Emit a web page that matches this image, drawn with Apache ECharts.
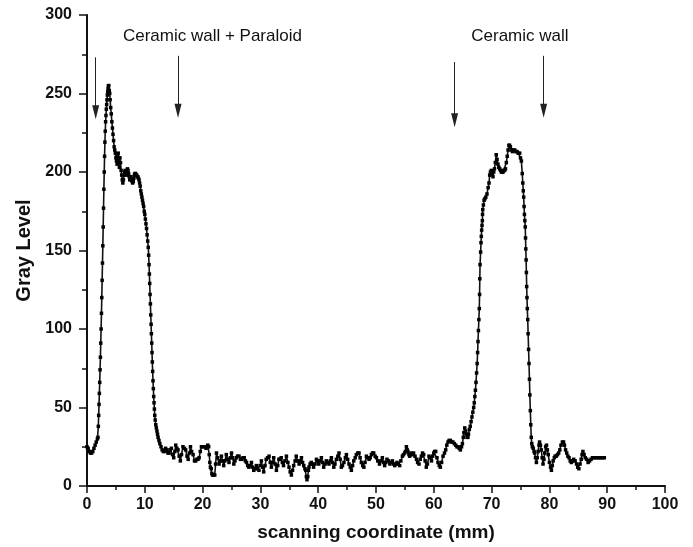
<!DOCTYPE html>
<html>
<head>
<meta charset="utf-8">
<script src="https://cdn.jsdelivr.net/npm/echarts@6/dist/echarts.min.js"></script>
<style>
  html, body { margin: 0; padding: 0; background: #fff; }
  #grayProfile { width: 693px; height: 547px; }
</style>
</head>
<body>
<div id="grayProfile"></div>
<script>
// scanning coordinate (mm)
const scanMm = [
  0.0, 0.2, 0.4, 0.6, 0.8, 1.0, 1.2, 1.4, 1.6, 1.8,
  1.90, 1.96, 2.02, 2.08, 2.14, 2.20, 2.26, 2.32, 2.38, 2.44, 2.50, 2.56, 2.62, 2.68, 2.74, 2.80, 2.86, 2.92, 2.98, 3.04, 3.10, 3.16, 3.22, 3.28, 3.34, 3.40, 3.46, 3.52, 3.58, 3.64, 3.70, 3.76,
  3.85, 3.93, 4.0, 4.1, 4.2, 4.3, 4.4, 4.5, 4.6, 4.7, 4.8, 4.9, 5.0, 5.1, 5.2, 5.3, 5.4, 5.5, 5.6, 5.7, 5.8, 5.9, 6.0, 6.1, 6.2, 6.3, 6.4, 6.5, 6.6, 6.7, 6.8, 6.9, 7.0, 7.1, 7.2, 7.3, 7.4, 7.5, 7.6, 7.7, 7.8, 7.9, 8.0, 8.1, 8.2, 8.3, 8.4, 8.5, 8.6, 8.7, 8.8, 8.9, 9.0, 9.1, 9.2, 9.3, 9.4, 9.5, 9.6, 9.7, 9.8, 9.9, 10.0, 10.1, 10.2, 10.3, 10.4, 10.5, 10.6,
  10.67, 10.73, 10.79, 10.85, 10.91, 10.97, 11.03, 11.09, 11.14, 11.2, 11.25, 11.3, 11.36, 11.42, 11.48, 11.54, 11.6, 11.66, 11.72, 11.8, 11.9, 12.0, 12.1, 12.2, 12.3, 12.45, 12.6, 12.8, 13.0, 13.2,
  13.4, 13.6, 13.84, 14.0, 14.2, 14.4, 14.6, 14.8, 15.0, 15.2, 15.35, 15.55, 15.75, 15.95, 16.15, 16.35, 16.6, 16.85, 17.07, 17.3, 17.5, 17.7, 17.9, 18.1, 18.35, 18.6, 18.8, 19.0, 19.2, 19.4, 19.6, 19.8, 20.1, 20.36, 20.6, 20.9, 21.05,
  21.15, 21.25, 21.35, 21.5, 21.6, 21.7, 21.9, 22.1, 22.25, 22.4, 22.6, 22.85, 23.05, 23.25, 23.45, 23.65, 23.85, 24.1, 24.35, 24.57, 24.8, 25.0, 25.2, 25.4, 25.6, 25.85, 26.05, 26.3, 26.55, 26.77, 27.0, 27.2, 27.4, 27.6, 27.8, 28.0, 28.2, 28.45, 28.65, 28.85, 29.05, 29.3, 29.5, 29.75, 29.95,
  30.17, 30.37, 30.57, 30.8, 31.0, 31.25, 31.5, 31.7, 31.9, 32.1, 32.3, 32.55, 32.77, 33.0, 33.2, 33.4, 33.6, 33.8, 34.0, 34.25, 34.5, 34.75, 34.95, 35.15, 35.36, 35.56, 35.76, 36.0, 36.2, 36.45, 36.7, 36.9, 37.1, 37.3, 37.5, 37.7, 37.85, 37.95, 38.06, 38.2, 38.3, 38.4, 38.6, 38.8, 39.0, 39.2, 39.45, 39.7, 39.9,
  40.1, 40.3, 40.55, 40.75, 40.95, 41.2, 41.4, 41.65, 41.87, 42.1, 42.28, 42.5, 42.7, 42.9, 43.15, 43.4, 43.6, 43.8, 44.0, 44.2, 44.45, 44.7, 44.88, 45.1, 45.33, 45.55, 45.74, 45.95, 46.15, 46.4, 46.6, 46.85, 47.06, 47.25, 47.47, 47.7, 47.9, 48.1, 48.34, 48.55, 48.8, 49.0, 49.2, 49.4, 49.6, 49.85,
  50.07, 50.3, 50.6, 50.85, 51.1, 51.3, 51.5, 51.7, 51.9, 52.15, 52.4, 52.6, 52.84, 53.05, 53.24, 53.45, 53.63, 53.85, 54.1, 54.3, 54.57, 54.75, 54.97, 55.1, 55.26, 55.4, 55.53, 55.7, 55.83, 56.0, 56.1, 56.3, 56.5, 56.75, 57.0, 57.2, 57.44, 57.65, 57.85, 58.05, 58.25, 58.5, 58.7, 58.9, 59.17, 59.4, 59.6, 59.8,
  60.0, 60.15, 60.33, 60.55, 60.73, 60.95, 61.14, 61.35, 61.6, 61.85, 62.06, 62.25, 62.46, 62.65, 62.87, 63.1, 63.3, 63.55, 63.8, 64.0, 64.2, 64.4, 64.6, 64.8, 64.95, 65.1, 65.2, 65.35, 65.5, 65.6, 65.75, 65.9,
  66.0, 66.15, 66.3, 66.45, 66.6, 66.75, 66.9, 67.0, 67.1, 67.2, 67.3, 67.4, 67.5, 67.58, 67.65, 67.72, 67.8, 67.87, 67.92, 67.96, 68.0, 68.1, 68.17, 68.22, 68.28, 68.34, 68.4, 68.43, 68.47, 68.58, 68.7, 68.85,
  69.0, 69.2, 69.4, 69.55, 69.67, 69.8, 69.96, 70.1, 70.24, 70.37, 70.5, 70.65, 70.8, 70.95, 71.1, 71.25, 71.4, 71.55, 71.7, 71.85, 71.97, 72.1, 72.25, 72.4, 72.55, 72.7, 72.85, 73.0, 73.1, 73.25, 73.4, 73.6, 73.8, 74.0, 74.2, 74.4, 74.6, 74.86,
  75.0, 75.15, 75.3, 75.4, 75.48, 75.55, 75.62, 75.68, 75.75, 75.82, 75.87, 75.92, 75.97, 76.02, 76.07, 76.12, 76.18, 76.25, 76.32, 76.4, 76.47, 76.55, 76.62, 76.7, 76.78, 76.86, 76.95,
  77.05, 77.2, 77.35, 77.45, 77.6, 77.75, 77.9, 78.05, 78.2, 78.3, 78.45, 78.6, 78.75, 78.9, 79.05, 79.2, 79.35, 79.5, 79.65, 79.8, 80.0, 80.2, 80.35, 80.5, 80.65, 80.85, 81.0, 81.2, 81.4, 81.6, 81.8, 82.0, 82.25, 82.45, 82.6, 82.8,
  83.0, 83.2, 83.4, 83.6, 83.8, 84.0, 84.2, 84.45, 84.7, 84.9, 85.1, 85.3, 85.5, 85.65, 85.8, 86.0, 86.2, 86.45, 86.7, 86.95, 87.2, 87.45, 87.7, 88.0, 88.3, 88.6, 88.9, 89.2, 89.5
];

// gray level at each scanning coordinate
const grayLevel = [
  25, 24, 22, 21, 21, 22, 24, 26, 28, 30,
  31, 38, 45, 52, 59, 66, 74, 82, 91, 100, 110, 120, 131, 142, 153, 165, 177, 189, 200, 210, 219, 226, 232, 236, 240, 243, 246, 249, 251, 253, 255, 255,
  252, 250, 246, 241, 237, 232, 228, 224, 220, 216, 214, 212, 209, 207, 205, 210, 212, 206, 203, 209, 206, 201, 198, 195, 193, 195, 198, 200, 201, 199, 198, 200, 202, 201, 199, 197, 195, 196, 197, 195, 194, 193, 194, 196, 198, 199, 199, 198, 198, 197, 197, 196, 195, 193, 191, 188, 186, 184, 182, 180, 178, 175, 173, 170, 167, 164, 160, 156, 152,
  147, 141, 135, 129, 122, 116, 109, 103, 97, 91, 85, 79, 73, 67, 62, 57, 53, 49, 45, 42, 39, 37, 35, 33, 31, 29, 27, 25, 23, 22,
  22, 24, 23, 21, 21, 23, 24, 20, 18, 22, 26, 24, 23, 19, 16, 20, 25, 24, 23, 19, 17, 21, 25, 22, 20, 16, 16, 17, 17, 18, 22, 25, 25, 25, 24, 26, 25,
  20, 15, 12, 11, 8, 7, 7, 7, 14, 21, 18, 14, 16, 19, 16, 13, 16, 20, 17, 15, 18, 21, 18, 14, 16, 18, 19, 19, 17, 17, 18, 18, 16, 15, 13, 12, 13, 15, 12, 10, 11, 13, 11, 10, 13,
  16, 12, 9, 13, 17, 18, 19, 15, 12, 15, 18, 14, 10, 13, 17, 17, 18, 15, 13, 16, 19, 15, 12, 9, 7, 10, 13, 16, 19, 16, 14, 16, 18, 15, 13, 11, 10, 6, 4, 6, 10, 12, 14, 15, 14, 12, 14, 17, 16,
  14, 16, 18, 15, 12, 14, 16, 15, 14, 16, 18, 15, 12, 14, 17, 19, 21, 17, 12, 13, 15, 18, 20, 17, 14, 12, 10, 13, 16, 18, 20, 21, 21, 18, 15, 13, 12, 15, 19, 18, 17, 18, 20, 21, 21, 19,
  18, 16, 14, 16, 18, 15, 13, 15, 17, 16, 14, 15, 16, 14, 13, 14, 15, 14, 13, 16, 19, 20, 21, 22, 25, 23, 22, 20, 19, 20, 21, 20, 21, 19, 17, 15, 14, 17, 19, 21, 20, 16, 12, 14, 19, 18, 16, 19,
  21, 22, 22, 18, 15, 13, 12, 15, 19, 21, 23, 26, 28, 29, 29, 28, 28, 27, 26, 25, 25, 24, 23, 25, 27, 31, 34, 37, 35, 33, 31, 31,
  33, 36, 38, 41, 44, 47, 50, 53, 57, 61, 66, 72, 78, 85, 92, 99, 106, 113, 122, 132, 141, 149, 155, 159, 163, 166, 169, 173, 176, 179, 182, 183,
  184, 186, 190, 193, 198, 200, 201, 199, 197, 200, 202, 206, 211, 208, 205, 203, 202, 201, 200, 200, 200, 201, 201, 202, 206, 210, 214, 217, 217, 216, 214, 213, 214, 214, 213, 213, 212, 212,
  209, 207, 199, 193, 188, 184, 178, 173, 169, 165, 158, 151, 144, 136, 127, 120, 113, 106, 97, 87, 78, 68, 58, 48, 39, 31, 27,
  25, 24, 22, 21, 18, 15, 18, 22, 26, 28, 26, 23, 18, 14, 17, 21, 25, 26, 23, 20, 15, 12, 10, 13, 16, 18, 19, 19, 20, 21, 23, 26, 28, 28, 26, 23,
  21, 19, 18, 16, 15, 16, 17, 16, 14, 12, 11, 14, 17, 20, 22, 20, 18, 17, 15, 16, 17, 18, 18, 18, 18, 18, 18, 18, 18
];

// annotation arrows: x position, start value, value where the head sits
const arrowX = [1.5, 15.75, 63.6, 79.0];
const arrowFrom = [273, 274, 270, 274];
const arrowTo = [238, 239, 233, 239];

// region captions
const captionText = ['Ceramic wall + Paraloid', 'Ceramic wall'];
const captionX = [21.7, 74.9];
const captionY = [286.5, 286.5];

const fontFamily = '"Liberation Sans", Arial, Helvetica, sans-serif';

const points = scanMm.map((x, i) => [x, grayLevel[i]]);

const arrowLines = arrowX.map((x, i) => [
  { coord: [x, arrowFrom[i]] },
  { coord: [x, arrowTo[i]] }
]);

const captions = captionText.map((t, i) => ({
  coord: [captionX[i], captionY[i]],
  value: t
}));

const chart = echarts.init(document.getElementById('grayProfile'));

chart.setOption({
  animation: false,
  backgroundColor: '#ffffff',
  grid: {
    left: 87,
    right: 28,
    top: 15,
    bottom: 61
  },
  xAxis: {
    type: 'value',
    min: 0,
    max: 100,
    interval: 10,
    name: 'scanning coordinate (mm)',
    nameLocation: 'middle',
    nameGap: 37,
    nameTextStyle: {
      color: '#111',
      fontSize: 19,
      fontWeight: 'bold',
      fontFamily: fontFamily
    },
    axisLine: { onZero: false, lineStyle: { color: '#111', width: 2 } },
    axisTick: { show: true, inside: false, length: 7, lineStyle: { color: '#111', width: 1.5 } },
    minorTick: { show: true, splitNumber: 2, length: 4, lineStyle: { color: '#111', width: 1.5 } },
    axisLabel: {
      color: '#111',
      fontSize: 16,
      fontWeight: 'bold',
      fontFamily: fontFamily,
      margin: 11
    },
    splitLine: { show: false }
  },
  yAxis: {
    type: 'value',
    min: 0,
    max: 300,
    interval: 50,
    name: 'Gray Level',
    nameLocation: 'middle',
    nameGap: 53,
    nameTextStyle: {
      color: '#111',
      fontSize: 20,
      fontWeight: 'bold',
      fontFamily: fontFamily
    },
    axisLine: { show: true, lineStyle: { color: '#111', width: 2 } },
    axisTick: { show: true, inside: false, length: 8, lineStyle: { color: '#111', width: 1.5 } },
    minorTick: { show: true, splitNumber: 2, length: 5, lineStyle: { color: '#111', width: 1.5 } },
    axisLabel: {
      color: '#111',
      fontSize: 16,
      fontWeight: 'bold',
      fontFamily: fontFamily,
      margin: 15
    },
    splitLine: { show: false }
  },
  series: [
    {
      name: 'Gray Level',
      type: 'line',
      data: points,
      symbol: 'rect',
      symbolSize: 3.5,
      showSymbol: true,
      showAllSymbol: true,
      itemStyle: { color: '#000' },
      lineStyle: { color: '#111', width: 1.6 },
      emphasis: { disabled: true },
      markLine: {
        silent: true,
        symbol: ['none', 'triangle'],
        symbolSize: [7, 14],
        label: { show: false },
        itemStyle: { color: '#000' },
        lineStyle: { color: '#222', width: 1, type: 'solid' },
        data: arrowLines
      },
      markPoint: {
        silent: true,
        symbol: 'rect',
        symbolSize: 0,
        label: {
          show: true,
          position: 'inside',
          formatter: p => p.value,
          color: '#111',
          fontSize: 17,
          fontFamily: fontFamily
        },
        data: captions
      }
    }
  ]
});
</script>
</body>
</html>
